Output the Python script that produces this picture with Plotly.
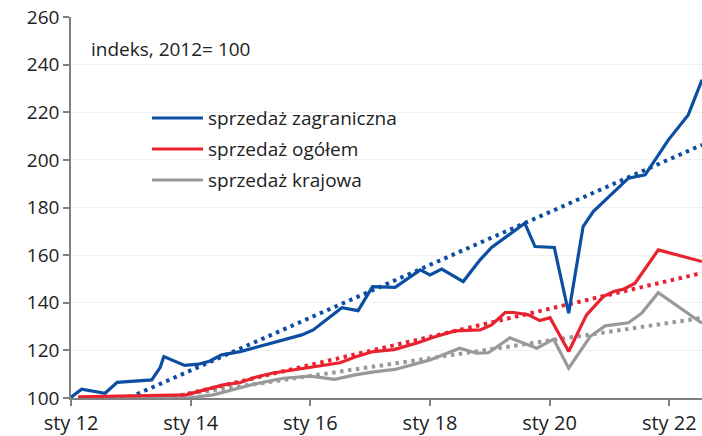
import plotly.graph_objects as go

# ---- data ----
blue_dates = ["2012-01-01", "2012-03-06", "2012-07-27", "2012-10-09", "2013-05-08", "2013-06-29",
              "2013-07-21", "2013-11-25", "2014-02-17", "2014-04-20", "2014-05-30", "2014-07-09",
              "2014-10-30", "2015-02-27", "2015-07-02", "2015-11-10", "2016-01-19", "2016-07-12",
              "2016-10-19", "2017-01-15", "2017-06-02", "2017-11-03", "2018-01-01", "2018-03-14",
              "2018-07-23", "2018-11-03", "2019-01-12", "2019-08-03", "2019-10-04", "2020-01-30",
              "2020-04-27", "2020-07-24", "2020-09-24", "2021-04-27", "2021-08-07", "2021-12-27",
              "2022-04-27", "2022-07-20"]
blue_vals = [100.3, 103.7, 102.0, 106.6, 107.6, 112.9,
             117.4, 113.7, 114.2, 115.3, 116.7, 118.1,
             119.5, 121.8, 124.1, 126.5, 128.6, 137.9,
             136.7, 146.8, 146.5, 153.8, 151.7, 154.1,
             148.9, 158.0, 163.2, 173.4, 163.6, 163.2,
             135.6, 172.0, 178.3, 192.3, 193.7, 208.4,
             218.9, 233.6]

red_dates = ["2012-02-13", "2013-12-05", "2014-03-14", "2014-07-20", "2014-10-30", "2015-02-06",
             "2015-05-19", "2016-01-01", "2016-07-01", "2016-10-01", "2017-01-19", "2017-05-26",
             "2017-10-19", "2018-01-22", "2018-06-02", "2018-11-03", "2019-01-12", "2019-04-05",
             "2019-05-26", "2019-08-25", "2019-11-03", "2020-01-04", "2020-04-27", "2020-08-14",
             "2020-11-24", "2021-01-26", "2021-03-29", "2021-06-06", "2021-10-26", "2022-07-20"]
red_vals = [100.5, 101.3, 103.2, 105.5, 106.5, 108.8,
            110.5, 113.0, 114.8, 117.2, 119.5, 120.3,
            123.2, 125.5, 128.2, 128.6, 130.7, 135.9,
            135.9, 134.9, 132.5, 133.7, 119.5, 134.9,
            142.6, 144.7, 145.7, 148.2, 162.2, 157.3]

gray_dates = ["2012-02-13", "2013-07-02", "2013-12-13", "2014-05-19", "2014-09-16", "2015-01-19",
              "2015-07-20", "2016-01-01", "2016-05-29", "2016-10-01", "2017-01-23", "2017-06-02",
              "2018-01-01", "2018-07-02", "2018-10-12", "2018-12-24", "2019-05-04", "2019-10-15",
              "2020-01-26", "2020-04-27", "2020-09-05", "2020-12-05", "2021-04-27", "2021-07-16",
              "2021-10-26", "2022-07-20"]
gray_vals = [100.0, 100.2, 100.0, 101.3, 103.4, 105.8,
             108.3, 109.2, 107.8, 109.7, 111.0, 112.0,
             116.0, 120.9, 118.8, 119.0, 125.3, 120.9,
             124.7, 112.5, 125.8, 130.3, 131.6, 135.6,
             144.2, 131.4]

# linear trend lines: start and end values
trend_dates = ["2012-01-01", "2022-07-20"]
blue_trend = [89.4, 206.3]
red_trend = [90.3, 152.5]
gray_trend = [94.4, 133.6]

series_names = ["sprzedaż zagraniczna", "sprzedaż ogółem", "sprzedaż krajowa"]
tick_dates = ["2012-01-01", "2014-01-01", "2016-01-01", "2018-01-01", "2020-01-01", "2022-01-01"]
tick_text = ["sty 12", "sty 14", "sty 16", "sty 18", "sty 20", "sty 22"]
y_ticks = [100, 120, 140, 160, 180, 200, 220, 240, 260]
note_text = "indeks, 2012= 100"

BLUE = "#0b4ea2"
RED = "#e8232f"
GRAY = "#999999"
FONT = "Open Sans"
FS = 19

fig = go.Figure()
# trends (dotted)
for vals, col in [(gray_trend, GRAY), (red_trend, RED), (blue_trend, BLUE)]:
    fig.add_trace(go.Scatter(x=trend_dates, y=vals, mode="lines",
                             line=dict(color=col, width=4, dash="3.5px,4.5px"),
                             showlegend=False, hoverinfo="skip"))
# series
for d, v, col, name in [(gray_dates, gray_vals, GRAY, series_names[2]),
                        (red_dates, red_vals, RED, series_names[1]),
                        (blue_dates, blue_vals, BLUE, series_names[0])]:
    fig.add_trace(go.Scatter(x=d, y=v, mode="lines", name=name,
                             line=dict(color=col, width=3.2), showlegend=False))

# manual legend
W, H = 631.0, 381.0
leg_rows = [(series_names[0], BLUE, 118), (series_names[1], RED, 149), (series_names[2], GRAY, 180)]
for name, col, py in leg_rows:
    yp = (398 - py) / H
    fig.add_shape(type="line", xref="paper", yref="paper",
                  x0=(152 - 71) / W, x1=(203 - 71) / W, y0=yp, y1=yp,
                  line=dict(color=col, width=3.2))
    fig.add_annotation(xref="paper", yref="paper", x=(206 - 71) / W, y=yp,
                       xanchor="left", yanchor="middle", showarrow=False,
                       text=name, font=dict(family=FONT, size=FS, color="#222222"))

fig.add_annotation(xref="paper", yref="paper", x=(89 - 71) / W, y=(398 - 49) / H,
                   xanchor="left", yanchor="middle", showarrow=False,
                   text=note_text, font=dict(family=FONT, size=FS, color="#222222"))

fig.update_layout(
    width=702, height=436,
    margin=dict(l=71, r=0, t=17, b=38, autoexpand=False),
    paper_bgcolor="white", plot_bgcolor="white",
    font=dict(family=FONT, size=FS, color="#222222"),
    showlegend=False,
)
fig.update_xaxes(type="date", range=["2012-01-01", "2022-07-20"], automargin=False,
                 tickvals=tick_dates, ticktext=tick_text,
                 showgrid=False, showline=True, linecolor="#808080", linewidth=1.5,
                 ticks="outside", ticklen=6, tickcolor="#808080", tickwidth=1.5,
                 tickfont=dict(family=FONT, size=20, color="#222222"))
fig.update_yaxes(range=[100, 260], tickvals=y_ticks, automargin=False,
                 showgrid=True, gridcolor="#f0f0f0", gridwidth=1,
                 showline=True, linecolor="#808080", linewidth=1.5,
                 ticks="outside", ticklen=6, tickcolor="#808080", tickwidth=1.5,
                 zeroline=False,
                 tickfont=dict(family=FONT, size=FS, color="#222222"))

fig.write_html("out.html",
               config={"displayModeBar": False},
               post_script="document.body.style.margin='0';document.body.style.overflow='hidden';")
